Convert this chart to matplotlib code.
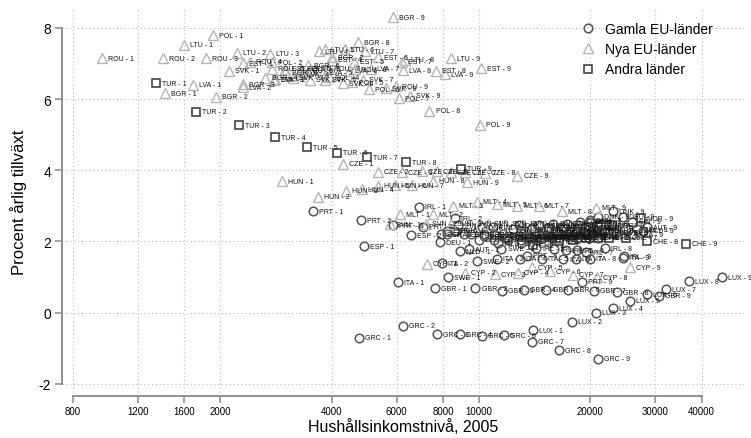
import numpy as np
import matplotlib
matplotlib.use("Agg")
import matplotlib.pyplot as plt

plt.rcParams['font.family'] = ['Liberation Sans', 'DejaVu Sans']

# decile 1..9, household income 2005 and annual growth (%)
deciles = [1, 2, 3, 4, 5, 6, 7, 8, 9]

old_eu_income = {
    "GRC": [4745, 6240, 7710, 8890, 10190, 11690, 13920, 16480, 20990],
    "LUX": [14000, 17860, 20740, 23030, 25640, 28460, 32050, 36960, 45370],
    "GBR": [7610, 9790, 11560, 13250, 15230, 17440, 20480, 23600, 30670],
    "ITA": [6040, 7940, 11190, 12880, 14820, 16930, 18300, 19920, 24520],
    "IRL": [6880, 8610, 14300, 16000, 17200, 18400, 19500, 21900, 24700],
    "PRT": [3566, 4800, 5860, 7060, 8200, 9500, 11000, 13500, 19020],
    "ESP": [4890, 6540, 7900, 9100, 10300, 11600, 13200, 15400, 19800],
    "SWE": [8250, 9900, 11500, 13000, 14400, 15800, 17300, 19500, 23500],
    "DEU": [7850, 10000, 11800, 13300, 14800, 16500, 18400, 20000, 24500],
    "NLD": [8900, 11300, 13000, 14600, 16200, 17800, 19700, 22300, 27800],
    "AUT": [9400, 12000, 13800, 15300, 16800, 18300, 20200, 23000, 28500],
    "BEL": [8600, 11000, 12800, 14300, 15900, 17500, 19300, 21800, 26800],
    "DNK": [10200, 12800, 14500, 15900, 17300, 18800, 20000, 21000, 23050],
    "FIN": [8800, 10900, 12400, 13800, 15200, 16800, 18600, 21200, 26000],
    "FRA": [8200, 10300, 11900, 13400, 14900, 16500, 18400, 21000, 26000],
}
old_eu_growth = {
    "GRC": [-0.71, -0.37, -0.60, -0.60, -0.65, -0.63, -0.82, -1.05, -1.30],
    "LUX": [-0.49, -0.26, 0.00, 0.13, 0.33, 0.52, 0.66, 0.89, 1.00],
    "GBR": [0.69, 0.69, 0.61, 0.64, 0.64, 0.64, 0.61, 0.58, 0.47],
    "ITA": [0.86, 1.39, 1.51, 1.51, 1.52, 1.50, 1.52, 1.51, 1.55],
    "IRL": [2.97, 2.66, 1.81, 1.78, 1.75, 1.75, 1.70, 1.81, 1.58],
    "PRT": [2.85, 2.60, 2.46, 2.41, 2.30, 2.20, 2.05, 1.60, 0.87],
    "ESP": [1.87, 2.18, 2.20, 2.20, 2.20, 2.20, 2.20, 2.15, 2.10],
    "SWE": [1.00, 1.45, 1.79, 1.95, 2.05, 2.10, 2.15, 2.20, 2.25],
    "DEU": [1.98, 2.05, 2.10, 2.15, 2.20, 2.25, 2.30, 2.55, 2.70],
    "NLD": [1.73, 1.95, 2.05, 2.10, 2.10, 2.15, 2.20, 2.25, 2.30],
    "AUT": [1.78, 2.05, 2.10, 2.15, 2.20, 2.20, 2.25, 2.30, 2.40],
    "BEL": [2.30, 2.20, 2.15, 2.15, 2.20, 2.20, 2.25, 2.30, 2.35],
    "DNK": [2.40, 2.45, 2.45, 2.50, 2.50, 2.55, 2.60, 2.70, 2.85],
    "FIN": [2.45, 2.40, 2.35, 2.35, 2.35, 2.40, 2.45, 2.50, 2.55],
    "FRA": [2.20, 2.15, 2.10, 2.10, 2.10, 2.10, 2.10, 2.10, 2.20],
}

new_eu_income = {
    "ROU": [958, 1400, 1830, 2400, 2760, 3300, 3900, 4620, 5970],
    "BGR": [1420, 1950, 2300, 2650, 3000, 3450, 4010, 4710, 5860],
    "LTU": [1596, 2218, 2722, 3700, 3840, 4340, 4920, 6310, 8410],
    "LVA": [1685, 2300, 2800, 3300, 3800, 4450, 5100, 6240, 8100],
    "EST": [2300, 3000, 3500, 4000, 4600, 5330, 6200, 7650, 10150],
    "POL": [1910, 2760, 3300, 3940, 4550, 5040, 6080, 7350, 10060],
    "SVK": [2110, 2810, 3150, 3500, 3850, 4300, 4850, 5600, 6520],
    "HUN": [2935, 3670, 4380, 4830, 5330, 5930, 6590, 7520, 9290],
    "CZE": [4300, 5330, 6200, 7000, 7700, 8400, 9200, 10400, 12700],
    "MLT": [6120, 7520, 8510, 9880, 11200, 12700, 14500, 16800, 20700],
    "SVN": [5750, 7200, 8400, 9500, 10600, 11800, 13200, 15100, 18800],
    "CYP": [7230, 9160, 11060, 12770, 13920, 15560, 17960, 20850, 25590],
}
new_eu_growth = {
    "ROU": [7.15, 7.15, 7.15, 7.05, 6.85, 6.80, 6.85, 6.84, 6.36],
    "BGR": [6.17, 6.06, 6.42, 6.60, 6.75, 6.95, 7.18, 7.60, 8.30],
    "LTU": [7.52, 7.30, 7.27, 7.35, 7.40, 7.40, 7.35, 7.10, 7.15],
    "LVA": [6.40, 6.33, 6.55, 6.70, 6.75, 6.80, 6.85, 6.81, 6.70],
    "EST": [7.00, 6.85, 6.85, 7.10, 7.05, 7.18, 7.05, 6.79, 6.87],
    "POL": [7.80, 7.04, 6.85, 6.62, 6.47, 6.28, 6.03, 5.67, 5.28],
    "SVK": [6.79, 6.56, 6.60, 6.55, 6.55, 6.45, 6.55, 6.30, 6.09],
    "HUN": [3.69, 3.25, 3.42, 3.47, 3.56, 3.58, 3.58, 3.70, 3.67],
    "CZE": [4.18, 3.96, 3.95, 3.98, 3.97, 3.95, 3.95, 3.93, 3.84],
    "MLT": [2.77, 2.77, 3.00, 3.11, 3.05, 3.00, 3.00, 2.85, 2.95],
    "SVN": [2.49, 2.50, 2.50, 2.50, 2.50, 2.50, 2.50, 2.45, 2.40],
    "CYP": [1.37, 1.12, 1.08, 1.12, 1.28, 1.17, 1.06, 1.00, 1.28],
}

other_income = {
    "TUR": [1340, 1720, 2247, 2812, 3431, 4137, 4985, 6353, 8952],
    "NOR": [13000, 15500, 17000, 18500, 19800, 21000, 22000, 22920, 27430],
    "CHE": [14000, 16500, 18000, 19500, 21000, 22500, 25000, 28450, 36300],
}
other_growth = {
    "TUR": [6.45, 5.64, 5.27, 4.93, 4.65, 4.49, 4.37, 4.23, 4.04],
    "NOR": [2.30, 2.35, 2.35, 2.35, 2.40, 2.40, 2.45, 2.46, 2.66],
    "CHE": [1.90, 2.00, 2.05, 2.10, 2.10, 2.10, 2.10, 2.01, 1.93],
}

group_names = ["Gamla EU-länder", "Nya EU-länder", "Andra länder"]
x_ticks = [800, 1200, 1600, 2000, 4000, 6000, 8000, 10000, 20000, 30000, 40000]
y_ticks = [-2, 0, 2, 4, 6, 8]

fig = plt.figure(figsize=(7.51, 4.39), dpi=100)
ax = fig.add_axes([62 / 751, 1 - 397 / 439, 683 / 751, 389 / 439])
ax.set_xscale("log")
ax.set_xlim(747.1, 52400)
ax.set_ylim(-2.34, 8.587)

styles = [
    dict(marker="o", mec="#555555", ms=6.2, mew=1.1),
    dict(marker="^", mec="#b5b5b5", ms=6.5, mew=1.0),
    dict(marker="s", mec="#444444", ms=6.0, mew=1.2),
]
groups = [(old_eu_income, old_eu_growth), (new_eu_income, new_eu_growth),
          (other_income, other_growth)]

for (inc, gr), st, name in zip(groups, styles, group_names):
    first = True
    for c in inc:
        ax.plot(inc[c], gr[c], ls="none", mfc="none", zorder=3,
                label=name if first else None, **st)
        first = False
    for c in inc:
        for d, xv, yv in zip(deciles, inc[c], gr[c]):
            ax.annotate(f"{c} - {d}", (xv, yv), xytext=(4.5, 0),
                        textcoords="offset points", fontsize=5,
                        va="center", ha="left", color="#111111", zorder=4)

ax.set_xticks(x_ticks)
ax.set_xticklabels([str(t) for t in x_ticks], fontsize=7)
ax.minorticks_off()
ax.set_yticks(y_ticks)
ax.set_yticklabels([str(t) for t in y_ticks], fontsize=10)
ax.grid(True, ls=(0, (1, 2.5)), color="#bdbdbd", lw=0.8)
ax.set_axisbelow(True)

for s in ["top", "right"]:
    ax.spines[s].set_visible(False)
ax.spines["left"].set_bounds(-2, 8)
ax.spines["bottom"].set_bounds(800, 40000)
for s in ["left", "bottom"]:
    ax.spines[s].set_color("#888888")
    ax.spines[s].set_linewidth(1.3)
ax.tick_params(axis="both", color="#888888", width=1.1, length=5)
ax.tick_params(axis="x", pad=2)
ax.tick_params(axis="y", pad=3)

ax.set_xlabel("Hushållsinkomstnivå, 2005", fontsize=11.5, labelpad=2)
ax.set_ylabel("Procent årlig tillväxt", fontsize=12, labelpad=8)

leg = ax.legend(loc="upper left", bbox_to_anchor=(574 / 751, 1 - 16 / 439),
                bbox_transform=fig.transFigure, frameon=False, fontsize=10,
                handlelength=1.0, handletextpad=0.7, labelspacing=0.45,
                borderpad=0)

fig.savefig("out.png", dpi=100)
